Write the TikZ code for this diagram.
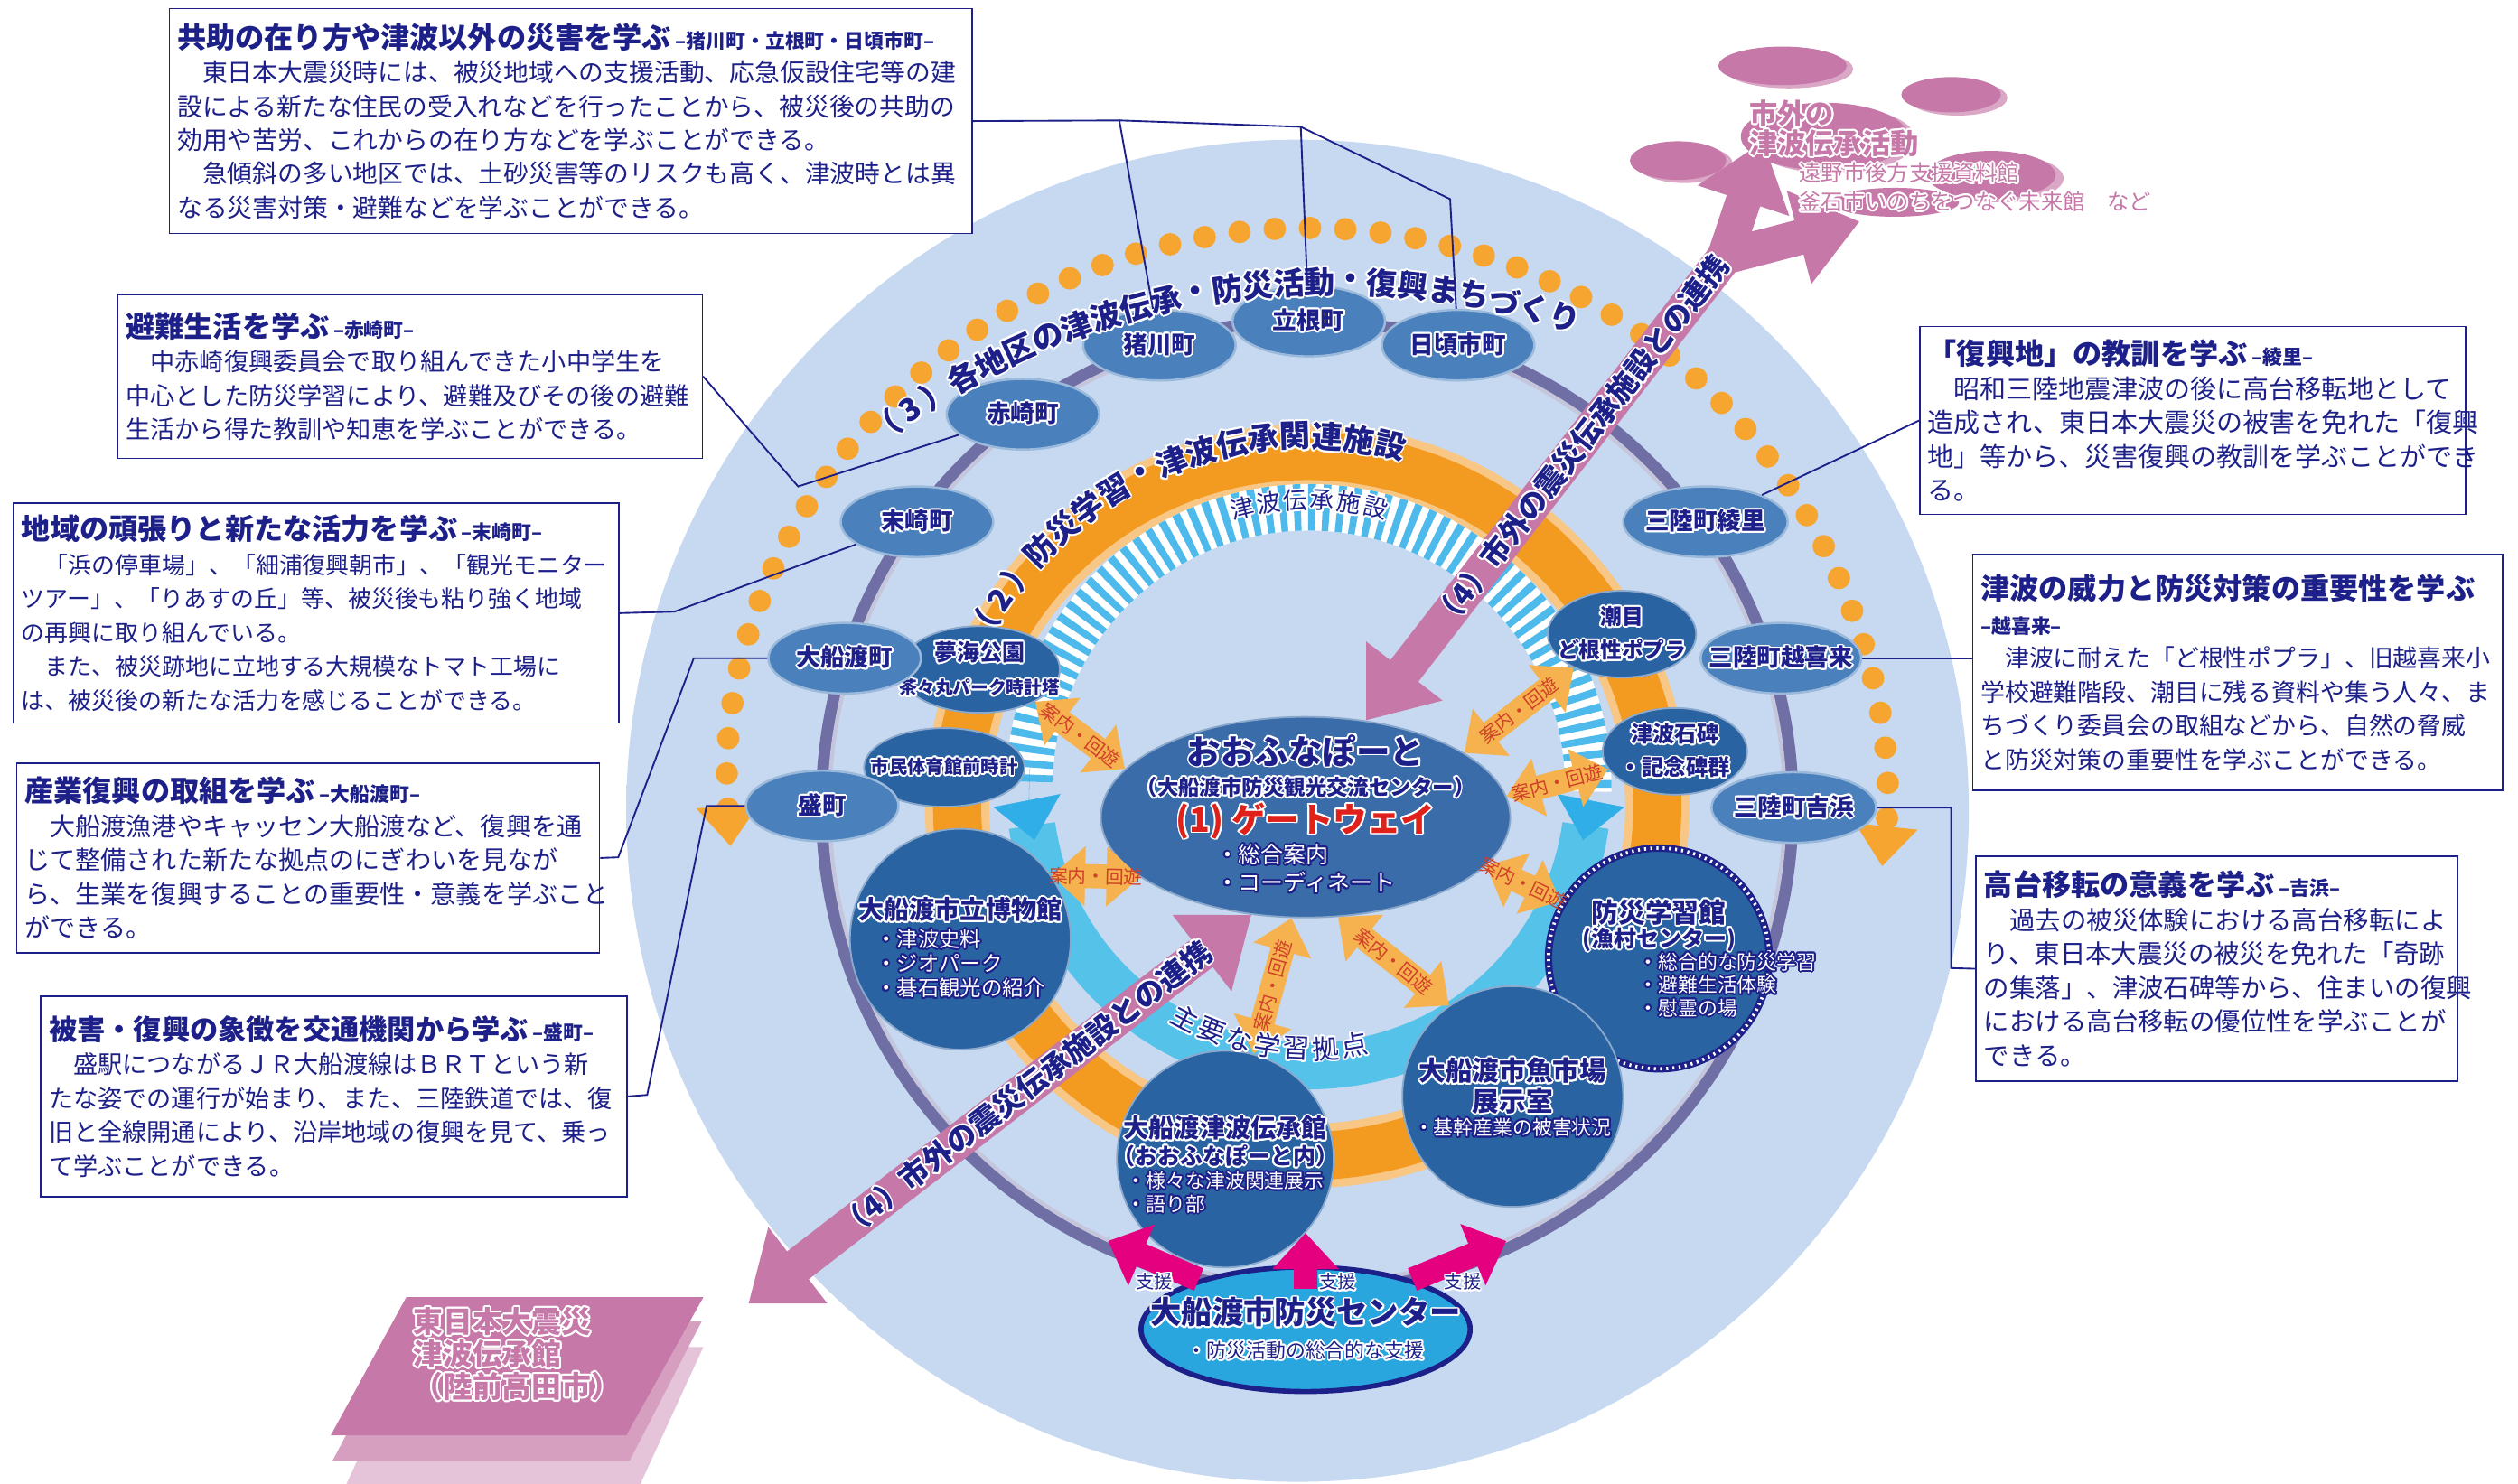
\documentclass[tikz,border=0pt]{standalone}
\usepackage{fontspec}
\setmainfont{Noto Sans CJK JP}
\usepackage[copies]{contour}
\usepackage{tikz}
\usetikzlibrary{shapes.geometric, arrows.meta, calc}

\definecolor{navy}{HTML}{1D2088}
\definecolor{bgblue}{HTML}{C6D9F1}
\definecolor{ringpurple}{HTML}{6F6FA6}
\definecolor{dotorange}{HTML}{F7A531}
\definecolor{bandorange}{HTML}{F39A21}
\definecolor{townblue}{HTML}{4A80BC}
\definecolor{sitedark}{HTML}{2A63A2}
\definecolor{hubblue}{HTML}{3A6CA9}
\definecolor{cyanband}{HTML}{55C3E9}
\definecolor{stripeblue}{HTML}{2FAEE8}
\definecolor{mauve}{HTML}{C679A8}
\definecolor{magentaarr}{HTML}{E5007F}
\definecolor{guideorange}{HTML}{F5B24E}
\definecolor{guidered}{HTML}{D0402A}
\definecolor{centerblue}{HTML}{2AA6DF}
\definecolor{gatered}{HTML}{E0201B}

\contourlength{0.6pt}

\pgfdeclareradialshading{softdisc}{\pgfpoint{0bp}{0bp}}{%
  color(0bp)=(bgblue); color(39bp)=(bgblue); color(50bp)=(white)}

\newcommand{\halo}[1]{{\color{navy}\contour{white}{#1}}}
\newcommand{\whalo}[1]{{\color{white}\contour{navy}{#1}}}
\newcommand{\pinkhalo}[1]{{\color{mauve}\contour{white}{#1}}}
\newcommand{\boxtitle}[1]{{\bfseries\fontsize{10.3}{13}\selectfont #1}}
\newcommand{\boxsub}[1]{{\bfseries\fontsize{7}{9}\selectfont #1}}

% characters set one by one round an arc
\newcommand{\arcword}[7]{%
  \foreach \ch [count=\k from 0] in {#7}{%
    \pgfmathsetmacro{\ang}{#4+\k*(#5)}%
    \node[glyph, rotate={\ang+(#6)}] (#1-\k) at ($(#2)+({#3*cos(\ang)},{-#3*sin(\ang)})$) {\halo{\ch}};
  }}

\begin{document}
\begin{tikzpicture}[
    x=0.02cm, y=-0.02cm,
    infobox/.style={
      draw=navy,
      line width=0.5pt,
      fill=white,
      anchor=north west,
      align=left,
      inner xsep=0.1cm,
      inner ysep=0.05cm,
      text=navy
    },
    leader/.style={draw=navy, line width=0.6pt},
    town/.style={
      ellipse,
      fill=townblue,
      draw=townblue!55!white,
      line width=0.8pt,
      minimum width=1.9cm,
      minimum height=0.88cm,
      inner xsep=-0.3cm,
      inner ysep=0pt,
      font=\bfseries\fontsize{8.5}{9}\selectfont
    },
    site/.style={
      circle,
      fill=sitedark,
      draw=sitedark!55!white,
      line width=0.6pt,
      minimum size=2.75cm,
      inner sep=0pt
    },
    sitesmall/.style={
      ellipse,
      fill=sitedark,
      draw=sitedark!55!white,
      line width=0.6pt,
      minimum width=2cm,
      minimum height=1.08cm,
      inner xsep=-0.45cm,
      inner ysep=0pt,
      align=center
    },
    sitetext/.style={align=center, inner sep=0pt, font=\fontsize{7.5}{8.5}\selectfont},
    guide/.style={
      draw=guideorange,
      line width=0.3cm,
      {Triangle[width=0.72cm,length=0.42cm]}-{Triangle[width=0.72cm,length=0.42cm]}
    },
    guidelabel/.style={midway, sloped, inner sep=0pt, text=guidered, font=\fontsize{6.6}{7}\selectfont},
    pinkarrow/.style={draw=mauve, line width=0.44cm, -{Triangle[width=1.15cm,length=0.78cm]}},
    pinkboth/.style={draw=mauve, line width=0.44cm,
      {Triangle[width=1.15cm,length=0.78cm]}-{Triangle[width=1.15cm,length=0.78cm]}},
    support/.style={draw=magentaarr, line width=0.3cm, -{Triangle[width=0.8cm,length=0.45cm]}},
    loophead/.style={draw=stripeblue, line width=0.1pt, -{Triangle[width=0.85cm,length=0.5cm]}},
    armtext/.style={inner sep=0pt, font=\bfseries\fontsize{10.5}{11}\selectfont}
  ]

  \useasboundingbox (0,0) rectangle (1568,924);

  % Centres
  \coordinate (ringc) at (814,502);
  \coordinate (loopc) at (815,490);
  \coordinate (textc) at (830,650);

  % Background disc and rings
  \shade[shading=softdisc] (808,505) circle [radius=418];
  \draw[ringpurple, line width=0.16cm] (ringc) circle [radius=302];
  \draw[ringpurple!40, line width=0.05cm] (ringc) circle [radius=297.5];
  \draw[draw=dotorange, line width=0.28cm, line cap=round, dash pattern=on 0pt off 0.44cm,
        {Triangle[width=0.75cm,length=0.5cm]}-{Triangle[width=0.75cm,length=0.5cm]}]
    ($(ringc)+({360*cos(184)},{-360*sin(184)})$) arc [start angle=-184, end angle=6, radius=360];
  \draw[bandorange!55!white, line width=0.8cm] (ringc) circle [radius=218];
  \draw[bandorange, line width=0.6cm] (ringc) circle [radius=218];

  % Inner loop
  \draw[cyanband, line width=0.58cm]
    ($(loopc)+({174*cos(188)},{-174*sin(188)})$) arc [start angle=-188, end angle=-352, radius=174];
  \draw[white, line width=0.58cm]
    ($(loopc)+({174*cos(179)},{-174*sin(179)})$) arc [start angle=-179, end angle=1, radius=174];
  \draw[stripeblue!85, line width=0.58cm, dash pattern=on 0.09cm off 0.09cm]
    ($(loopc)+({174*cos(179)},{-174*sin(179)})$) arc [start angle=-179, end angle=1, radius=174];
  \draw[loophead] ($(loopc)+({174*cos(176)},{-174*sin(176)})$) arc [start angle=-176, end angle=-191, radius=174];
  \draw[loophead] ($(loopc)+({174*cos(4)},{-174*sin(4)})$) arc [start angle=-4, end angle=11, radius=174];

  % Ovals outside the city
  \fill[mauve!65] (1114,43) ellipse [x radius=40, y radius=12];
  \fill[mauve] (1110,41) ellipse [x radius=40, y radius=12];
  \fill[mauve!65] (1219,61) ellipse [x radius=31, y radius=11];
  \fill[mauve] (1215,59) ellipse [x radius=31, y radius=11];
  \fill[mauve!65] (1141,87) ellipse [x radius=52, y radius=21];
  \fill[mauve] (1136,85) ellipse [x radius=52, y radius=21];
  \fill[mauve!65] (1049,102) ellipse [x radius=30, y radius=12];
  \fill[mauve] (1045,100) ellipse [x radius=30, y radius=12];
  \fill[mauve!65] (1245,111) ellipse [x radius=40, y radius=15];
  \fill[mauve] (1240,109) ellipse [x radius=40, y radius=15];
  \fill[mauve] (1180,126) ellipse [x radius=40, y radius=9];

  % Rikuzentakata stack
  \fill[mauve!45] (209,939) -- (255,839) -- (438,839) -- (392,939) -- cycle;
  \fill[mauve!72] (207,910) -- (253,823) -- (437,823) -- (392,910) -- cycle;
  \fill[mauve] (206,894) -- (253,808) -- (438,808) -- (390,894) -- cycle;

  % Hub
  \node[ellipse, fill=hubblue, draw=hubblue!60!white, line width=0.6pt, minimum width=5.1cm,
        minimum height=2.5cm, inner xsep=-1cm, inner ysep=-0.4cm, align=center] (hub) at (813,509) {%
    \halo{\bfseries\fontsize{12}{13}\selectfont おおふなぽーと}\\[-1pt]
    \halo{\bfseries\fontsize{7.5}{9}\selectfont （大船渡市防災観光交流センター）}\\[1pt]
    {\color{gatered}\contour{white}{\bfseries\fontsize{12}{13}\selectfont (1) ゲートウェイ}}\\
    {\fontsize{8}{10}\selectfont\begin{tabular}{@{}l@{}}\whalo{・総合案内}\\ \whalo{・コーディネート}\end{tabular}}};

  % Pink links to facilities outside the city
  \coordinate (fork) at (1074,160);
  \coordinate (outerA) at (1098,88);
  \coordinate (outerB) at (1158,138);
  \coordinate (armL) at (466,812);
  \draw[pinkarrow] (fork) -- (hub.58);
  \draw[pinkarrow] (fork) -- (outerA);
  \draw[pinkarrow] (fork) -- (outerB);
  \draw[pinkboth] (armL) -- (hub.241);

  % Learning sites
  \node[sitesmall] (yume) at (610,417) {\halo{\bfseries\fontsize{8}{9}\selectfont 夢海公園}\\
    \halo{\bfseries\fontsize{6.3}{7}\selectfont 茶々丸パーク時計塔}};
  \node[sitesmall, minimum height=0.98cm] (taiikukan) at (588,478) {\halo{\bfseries\fontsize{6.5}{7}\selectfont 市民体育館前時計}};
  \node[sitesmall, minimum width=1.85cm] (shiome) at (1010,395) {\halo{\bfseries\fontsize{7.6}{9.5}\selectfont 潮目}\\
    \halo{\bfseries\fontsize{7.6}{9.5}\selectfont ど根性ポプラ}};
  \node[sitesmall, minimum width=1.8cm] (sekihi) at (1043,468) {\halo{\bfseries\fontsize{7.8}{9.5}\selectfont 津波石碑}\\
    \halo{\bfseries\fontsize{7.8}{9.5}\selectfont ・記念碑群}};

  \node[site] (museum) at (598,585) {};
  \node[sitetext] (museumtext) at (598,592) {\halo{\bfseries\fontsize{9}{10}\selectfont 大船渡市立博物館}\\[1pt]
    \begin{tabular}{@{}l@{}}\whalo{・津波史料}\\ \whalo{・ジオパーク}\\ \whalo{・碁石観光の紹介}\end{tabular}};

  \node[site, draw=navy, line width=2.6pt] (bosaikan) at (1033,597) {};
  \draw[white, line width=1.2pt, dash pattern=on 0.7pt off 1.5pt] (bosaikan.center) circle [radius=1.375cm];
  \node[sitetext] (bosaikantext) at (1033,577) {\halo{\bfseries\fontsize{9.5}{11}\selectfont 防災学習館}\\
    \halo{\bfseries\fontsize{8}{9}\selectfont (漁村センター)}};
  \node[sitetext, anchor=north west, font=\fontsize{7}{7.7}\selectfont] (bosaikanlist) at (1020,593)
    {\begin{tabular}{@{}l@{}}\whalo{・総合的な防災学習}\\ \whalo{・避難生活体験}\\ \whalo{・慰霊の場}\end{tabular}};

  \node[site] (ichiba) at (942,683) {};
  \node[sitetext] (ichibatext) at (942,684) {\halo{\bfseries\fontsize{9.5}{11.5}\selectfont 大船渡市魚市場}\\
    \halo{\bfseries\fontsize{9.5}{11.5}\selectfont 展示室}\\
    \whalo{\fontsize{7}{9}\selectfont ・基幹産業の被害状況}};

  \node[site, minimum size=2.7cm] (densho) at (763,722) {};
  \node[sitetext] (denshotext) at (763,727) {\halo{\bfseries\fontsize{9}{10}\selectfont 大船渡津波伝承館}\\
    \halo{\bfseries\fontsize{8}{9.5}\selectfont （おおふなぽーと内）}\\
    {\fontsize{7}{8}\selectfont\begin{tabular}{@{}l@{}}\whalo{・様々な津波関連展示}\\ \whalo{・語り部}\end{tabular}}};

  % Towns on the outer ring
  \node[town] (inokawa) at (722,215) {\halo{猪川町}};
  \node[town] (tassone) at (815,200) {\halo{立根町}};
  \node[town] (hikoichi) at (908,215) {\halo{日頃市町}};
  \node[town] (akasaki) at (637,258) {\halo{赤崎町}};
  \node[town] (massaki) at (571,325) {\halo{末崎町}};
  \node[town] (ofunatocho) at (526,410) {\halo{大船渡町}};
  \node[town] (sakari) at (512,502) {\halo{盛町}};
  \node[town, minimum width=2.05cm] (ryori) at (1062,325) {\halo{三陸町綾里}};
  \node[town, minimum width=2.0cm] (okirai) at (1109,410) {\halo{三陸町越喜来}};
  \node[town, minimum width=2.05cm] (yoshihama) at (1117,503) {\halo{三陸町吉浜}};

  % Guide and tour arrows
  \draw[guide] (yume.-30) -- (hub.165) node[guidelabel] {案内・回遊};
  \draw[guide] (museum.35) -- (hub.200) node[guidelabel] {案内・回遊};
  \draw[guide] (hub.262) -- (densho.75) node[guidelabel] {案内・回遊};
  \draw[guide] (hub.288) -- (ichiba.125) node[guidelabel] {案内・回遊};
  \draw[guide] (hub.22) -- (shiome.215) node[guidelabel] {案内・回遊};
  \draw[guide] (hub.6) -- (sekihi.195) node[guidelabel] {案内・回遊};
  \draw[guide] (hub.-15) -- (bosaikan.150) node[guidelabel] {案内・回遊};

  % Disaster prevention centre and support
  \node[ellipse, fill=centerblue, draw=navy, line width=1.8pt, minimum width=4.1cm, minimum height=1.55cm,
        inner xsep=-1.2cm, inner ysep=-0.1cm, align=center] (bousai) at (813,828) {%
    \halo{\bfseries\fontsize{11}{13}\selectfont 大船渡市防災センター}\\
    \halo{\fontsize{7}{9}\selectfont ・防災活動の総合的な支援}};
  \coordinate (supL) at (690,773);
  \coordinate (supM) at (813,768);
  \coordinate (supR) at (938,773);
  \draw[support] (bousai.155) -- (supL);
  \draw[support] ([yshift=-0.3cm]bousai.north) -- (supM);
  \draw[support] (bousai.25) -- (supR);
  \node[font=\fontsize{6.5}{7}\selectfont] (supLtext) at (719,799) {\halo{支援}};
  \node[font=\fontsize{6.5}{7}\selectfont] (supMtext) at (833,799) {\halo{支援}};
  \node[font=\fontsize{6.5}{7}\selectfont] (supRtext) at (911,799) {\halo{支援}};

  % Curved titles
  \begin{scope}[glyph/.style={inner sep=0pt, font=\bfseries\fontsize{11}{11}\selectfont}]
    \arcword{three}{textc}{474}{126}{-2.335}{-90}{（,3,）,各,地,区,の,津,波,伝,承,・,防,災,活,動,・,復,興,ま,ち,づ,く,り}
    \arcword{two}{ringc}{230}{151}{-4.93}{-90}{（,2,）,防,災,学,習,・,津,波,伝,承,関,連,施,設}
  \end{scope}
  \begin{scope}[glyph/.style={inner sep=0pt, font=\fontsize{8.5}{9}\selectfont}]
    \arcword{facil}{loopc}{178}{103.5}{-5.4}{-90}{津,波,伝,承,施,設}
  \end{scope}
  \begin{scope}[glyph/.style={inner sep=0pt, font=\fontsize{9.5}{10}\selectfont}]
    \arcword{base}{loopc}{164}{-118}{6.33}{90}{主,要,な,学,習,拠,点}
  \end{scope}

  % Texts on the pink arrows
  \path (hub.58) -- (fork) node[armtext, pos=0.6, sloped] (armtextA) {\halo{（4）市外の震災伝承施設との連携}};
  \path (armL) -- (hub.241) node[armtext, pos=0.55, sloped] (armtextB) {\halo{（4）市外の震災伝承施設との連携}};

  % Outside activities
  \node[anchor=north west, align=left, inner sep=0pt, font=\bfseries\fontsize{10}{10.5}\selectfont] (outside) at (1089,62)
    {\pinkhalo{市外の}\\ \pinkhalo{津波伝承活動}};
  \node[anchor=north west, align=left, inner sep=0pt, font=\fontsize{7.8}{10.2}\selectfont] (outsidelist) at (1120,101)
    {\pinkhalo{遠野市後方支援資料館}\\ \pinkhalo{釜石市いのちをつなぐ未来館　など}};
  \node[anchor=north west, align=left, inner sep=0pt, font=\bfseries\fontsize{10.5}{11.5}\selectfont] (takata) at (257,814)
    {\pinkhalo{東日本大震災}\\ \pinkhalo{津波伝承館}\\ \pinkhalo{（陸前高田市）}};

  % Text boxes, left
  \node[infobox, text width=9.8cm, minimum height=2.8cm, font=\fontsize{8.9}{12}\selectfont] (boxA) at (105,5) {%
    \boxtitle{共助の在り方や津波以外の災害を学ぶ}\,\boxsub{–猪川町・立根町・日頃市町–}\\
    　東日本大震災時には、被災地域への支援活動、応急仮設住宅等の建\\
    設による新たな住民の受入れなどを行ったことから、被災後の共助の\\
    効用や苦労、これからの在り方などを学ぶことができる。\\
    　急傾斜の多い地区では、土砂災害等のリスクも高く、津波時とは異\\
    なる災害対策・避難などを学ぶことができる。};
  \node[infobox, text width=7.08cm, minimum height=2.04cm, font=\fontsize{8.7}{12}\selectfont] (boxB) at (73,183) {%
    \boxtitle{避難生活を学ぶ}\,\boxsub{–赤崎町–}\\
    　中赤崎復興委員会で取り組んできた小中学生を\\
    中心とした防災学習により、避難及びその後の避難\\
    生活から得た教訓や知恵を学ぶことができる。};
  \node[infobox, text width=7.34cm, minimum height=2.74cm, font=\fontsize{8.3}{12}\selectfont] (boxC) at (8,313) {%
    \boxtitle{地域の頑張りと新たな活力を学ぶ}\,\boxsub{–末崎町–}\\
    　「浜の停車場」、「細浦復興朝市」、「観光モニター\\
    ツアー」、「りあすの丘」等、被災後も粘り強く地域\\
    の再興に取り組んでいる。\\
    　また、被災跡地に立地する大規模なトマト工場に\\
    は、被災後の新たな活力を感じることができる。};
  \node[infobox, text width=7.06cm, minimum height=2.36cm, font=\fontsize{9}{12}\selectfont] (boxD) at (10,475) {%
    \boxtitle{産業復興の取組を学ぶ}\,\boxsub{–大船渡町–}\\
    　大船渡漁港やキャッセン大船渡など、復興を通\\
    じて整備された新たな拠点のにぎわいを見なが\\
    ら、生業を復興することの重要性・意義を学ぶこと\\
    ができる。};
  \node[infobox, text width=7.1cm, minimum height=2.5cm, font=\fontsize{8.7}{12}\selectfont] (boxE) at (25,620) {%
    {\bfseries\fontsize{10}{13}\selectfont 被害・復興の象徴を交通機関から学ぶ}\,\boxsub{–盛町–}\\
    　盛駅につながるＪＲ大船渡線はＢＲＴという新\\
    たな姿での運行が始まり、また、三陸鉄道では、復\\
    旧と全線開通により、沿岸地域の復興を見て、乗っ\\
    て学ぶことができる。};

  % Text boxes, right
  \node[infobox, text width=6.6cm, minimum height=2.34cm, font=\fontsize{9.3}{12}\selectfont] (boxF) at (1195,203) {%
    \boxtitle{「復興地」の教訓を学ぶ}\,\boxsub{–綾里–}\\
    　昭和三陸地震津波の後に高台移転地として\\
    造成され、東日本大震災の被害を免れた「復興\\
    地」等から、災害復興の教訓を学ぶことができ\\
    る。};
  \node[infobox, text width=6.4cm, minimum height=2.94cm, font=\fontsize{8.6}{12}\selectfont] (boxG) at (1228,345) {%
    \boxtitle{津波の威力と防災対策の重要性を学ぶ}\\
    \boxsub{–越喜来–}\\
    　津波に耐えた「ど根性ポプラ」、旧越喜来小\\
    学校避難階段、潮目に残る資料や集う人々、ま\\
    ちづくり委員会の取組などから、自然の脅威\\
    と防災対策の重要性を学ぶことができる。};
  \node[infobox, text width=5.8cm, minimum height=2.8cm, font=\fontsize{9.1}{12}\selectfont] (boxH) at (1230,533) {%
    \boxtitle{高台移転の意義を学ぶ}\,\boxsub{–吉浜–}\\
    　過去の被災体験における高台移転によ\\
    り、東日本大震災の被災を免れた「奇跡\\
    の集落」、津波石碑等から、住まいの復興\\
    における高台移転の優位性を学ぶことが\\
    できる。};

  % Leaders
  \coordinate (jA1) at (697,75);
  \coordinate (jA2) at (810,79);
  \coordinate (jA3) at (903,124);
  \coordinate (jB) at (497,303);
  \coordinate (jC) at (420,381);
  \coordinate (jD1) at (385,534);
  \coordinate (jD2) at (432,410);
  \coordinate (jE1) at (403,682);
  \coordinate (jE2) at (440,502);
  \coordinate (jH1) at (1215,503);
  \coordinate (jH2) at (1215,603);
  \draw[leader] (boxA.east) -- (jA1) -- (inokawa);
  \draw[leader] (jA1) -- (jA2) -- (tassone);
  \draw[leader] (jA2) -- (jA3) -- (hikoichi);
  \draw[leader] (boxB.east) -- (jB) -- (akasaki);
  \draw[leader] (boxC.east) -- (jC) -- (massaki);
  \draw[leader] (boxD.east) -- (jD1) -- (jD2) -- (ofunatocho);
  \draw[leader] (boxE.east) -- (jE1) -- (jE2) -- (sakari);
  \draw[leader] (boxF.west) -- (ryori);
  \draw[leader] (okirai) -- (okirai -| boxG.west);
  \draw[leader] (yoshihama) -- (jH1) -- (jH2) -- (boxH.west);

\end{tikzpicture}
\end{document}
